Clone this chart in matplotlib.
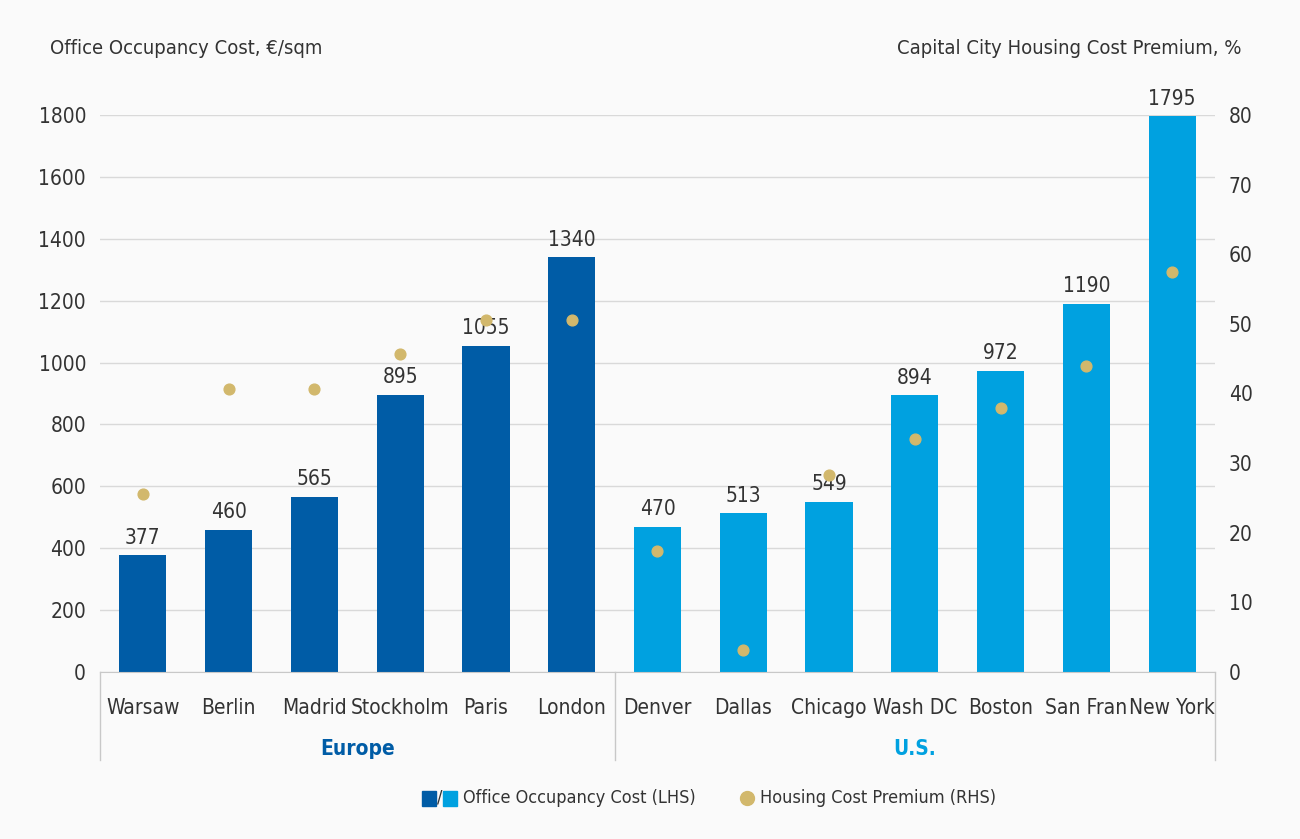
import numpy as np
import matplotlib.pyplot as plt
from matplotlib.patches import Rectangle

# data
cities = ['Warsaw', 'Berlin', 'Madrid', 'Stockholm', 'Paris', 'London',
          'Denver', 'Dallas', 'Chicago', 'Wash DC', 'Boston', 'San Fran', 'New York']
office_cost = [377, 460, 565, 895, 1055, 1340, 470, 513, 549, 894, 972, 1190, 1795]
housing_premium = [25.6, 40.7, 40.7, 45.7, 50.6, 50.6, 17.4, 3.2, 28.3, 33.5, 37.9, 44.0, 57.5]
regions = ['Europe', 'U.S.']
region_sizes = [6, 7]

dark_blue = '#005CA6'
light_blue = '#00A1E0'
gold = '#D2B86C'
txt = '#333333'
bg = '#FAFAFA'

plt.rcParams['font.family'] = ['DejaVu Sans']
plt.rcParams['font.stretch'] = 'condensed'

fig = plt.figure(figsize=(13, 8.39), dpi=100, facecolor=bg)
ax = fig.add_axes([0.0769, 0.199, 0.8577, 0.664], facecolor=bg)
ax2 = ax.twinx()

x = np.arange(len(cities))
colors = [dark_blue] * region_sizes[0] + [light_blue] * region_sizes[1]
bars = ax.bar(x, office_cost, width=0.55, color=colors, zorder=2)
for xi, v in zip(x, office_cost):
    ax.text(xi, v + 25, str(v), ha='center', va='bottom', fontsize=15,
            color=txt, clip_on=False, zorder=3)

ax2.scatter(x, housing_premium, s=60, color=gold, zorder=4, clip_on=False)

ax.set_xlim(-0.5, len(cities) - 0.5)
ax.set_ylim(0, 1800)
ax2.set_ylim(0, 80)
ax.set_yticks(range(0, 1801, 200))
ax2.set_yticks(range(0, 81, 10))
ax.grid(axis='y', color='#D9D9D9', linewidth=1, zorder=0)
ax.set_axisbelow(True)
ax2.set_zorder(ax.get_zorder() + 1)
ax2.patch.set_visible(False)

for a in (ax, ax2):
    for s in a.spines.values():
        s.set_visible(False)
    a.tick_params(length=0, labelsize=15, labelcolor=txt)
ax.spines['bottom'].set_visible(True)
ax.spines['bottom'].set_color('#C8C8C8')
ax.tick_params(axis='y', pad=10)
ax2.tick_params(axis='y', pad=10)

ax.set_xticks(x)
ax.set_xticklabels(cities, fontsize=15, color=txt)
ax.tick_params(axis='x', pad=19)

# region brackets
trans = ax.get_xaxis_transform()
edges = np.concatenate([[0], np.cumsum(region_sizes)]) - 0.5
for e in edges:
    ax.plot([e, e], [0, -0.158], transform=trans, color='#C8C8C8',
            linewidth=1, clip_on=False)
region_colors = [dark_blue, light_blue]
for i, r in enumerate(regions):
    mid = (edges[i] + edges[i + 1]) / 2
    ax.text(mid, -0.138, r, transform=trans, ha='center', va='center',
            fontsize=15, fontweight='bold', color=region_colors[i])

# axis titles
fig.text(0.0385, 0.942, 'Office Occupancy Cost, \u20ac/sqm', fontsize=14.5,
         color=txt, va='center')
fig.text(0.955, 0.942, 'Capital City Housing Cost Premium, %', fontsize=14.5,
         color=txt, va='center', ha='right')

# legend
ly = 0.049
fig.patches.append(Rectangle((0.3246, ly - 0.0095), 0.0108, 0.0175,
                             transform=fig.transFigure, color=dark_blue))
fig.text(0.3362, ly, '/', fontsize=13, color=txt, va='center')
fig.patches.append(Rectangle((0.3408, ly - 0.0095), 0.0108, 0.0175,
                             transform=fig.transFigure, color=light_blue))
fig.text(0.356, ly, 'Office Occupancy Cost (LHS)', fontsize=13, color=txt, va='center')
fig.lines.append(plt.Line2D([0.5746], [ly], marker='o', markersize=10,
                            color=gold, transform=fig.transFigure))
fig.text(0.5846, ly, 'Housing Cost Premium (RHS)', fontsize=13, color=txt, va='center')

fig.savefig('out.png', dpi=100, facecolor=bg)
